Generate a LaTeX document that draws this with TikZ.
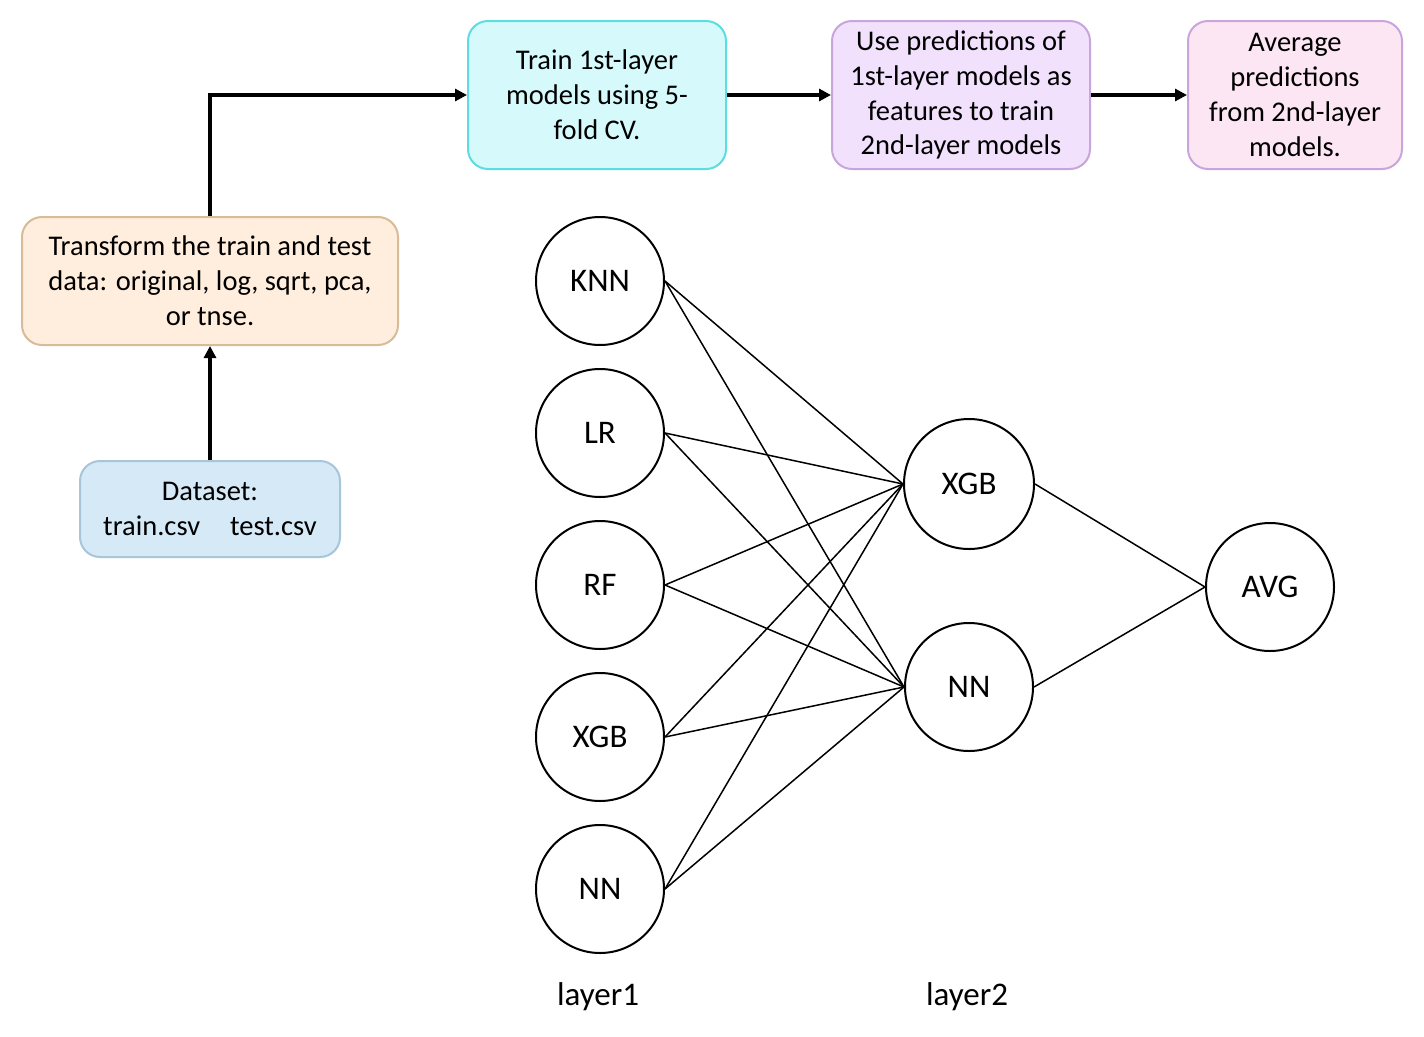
\documentclass[tikz,border=0pt]{standalone}
\usepackage{fontspec}
\setmainfont{Carlito}
\usetikzlibrary{arrows.meta}
\definecolor{cyanfill}{HTML}{D6FAFC}
\definecolor{cyanline}{HTML}{5CDDE0}
\definecolor{lavfill}{HTML}{F1E1FC}
\definecolor{lavline}{HTML}{C8A6DC}
\definecolor{pinkfill}{HTML}{FDE6F3}
\definecolor{orfill}{HTML}{FFEEDD}
\definecolor{orline}{HTML}{D8BB98}
\definecolor{bluefill}{HTML}{D5E9F6}
\definecolor{blueline}{HTML}{A8C6DA}
\tikzset{
  box/.style={rounded corners=20pt, line width=2pt, align=center, inner sep=0pt,
    font=\fontsize{28.5}{34.8}\selectfont},
  model/.style={circle, draw, line width=2pt, minimum size=128pt, inner sep=0pt,
    font=\fontsize{33}{36}\selectfont},
  flow/.style={line width=4pt, -{Triangle[length=12pt,width=12pt]}},
  link/.style={line width=1.5pt},
  lbl/.style={font=\fontsize{33}{38}\selectfont, inner sep=0pt}
}
\begin{document}
\begin{tikzpicture}[x=1pt,y=-1pt]
\fill[white] (0,0) rectangle (1424,1036);
\useasboundingbox (0,0) rectangle (1424,1036);

\node[box, fill=cyanfill, draw=cyanline, minimum width=258pt, minimum height=148pt] (train) at (597,95) {Train 1st-layer\\models using 5-\\fold CV.};
\node[box, fill=lavfill, draw=lavline, minimum width=258pt, minimum height=148pt] (use) at (961,95) {Use predictions of\\1st-layer models as\\features to train\\2nd-layer models};
\node[box, fill=pinkfill, draw=lavline, minimum width=214pt, minimum height=148pt] (avgbox) at (1295,95) {Average\\predictions\\from 2nd-layer\\models.};
\node[box, fill=orfill, draw=orline, minimum width=376pt, minimum height=128pt] (trans) at (210,281) {Transform the train and test\\data: original, log, sqrt, pca,\\or tnse.};
\node[box, fill=bluefill, draw=blueline, minimum width=260pt, minimum height=96pt] (data) at (210,509) {Dataset:\\train.csv\hspace{30pt}test.csv};

\coordinate (corner) at (trans.north |- train.west);
\draw[flow] (data.north) -- (trans.south);
\draw[flow] (trans.north) -- (corner) -- (train.west);
\draw[flow] (train.east) -- (use.west);
\draw[flow] (use.east) -- (avgbox.west);

\node[model] (knn) at (600,281) {KNN};
\node[model] (lr) at (600,433) {LR};
\node[model] (rf) at (600,585) {RF};
\node[model] (xgb1) at (600,737) {XGB};
\node[model] (nn1) at (600,889) {NN};
\node[model, minimum size=130pt] (xgb2) at (969,484) {XGB};
\node[model, minimum size=128pt] (nn2) at (969,687) {NN};
\node[model] (avg) at (1270,587) {AVG};

\foreach \a in {knn,lr,rf,xgb1,nn1}{
  \draw[link] (\a.east) -- (xgb2.west);
  \draw[link] (\a.east) -- (nn2.west);
}
\draw[link] (xgb2.east) -- (avg.west);
\draw[link] (nn2.east) -- (avg.west);

\node[lbl] (l1) at (598,997) {layer1};
\node[lbl] (l2) at (967,997) {layer2};
\end{tikzpicture}
\end{document}
